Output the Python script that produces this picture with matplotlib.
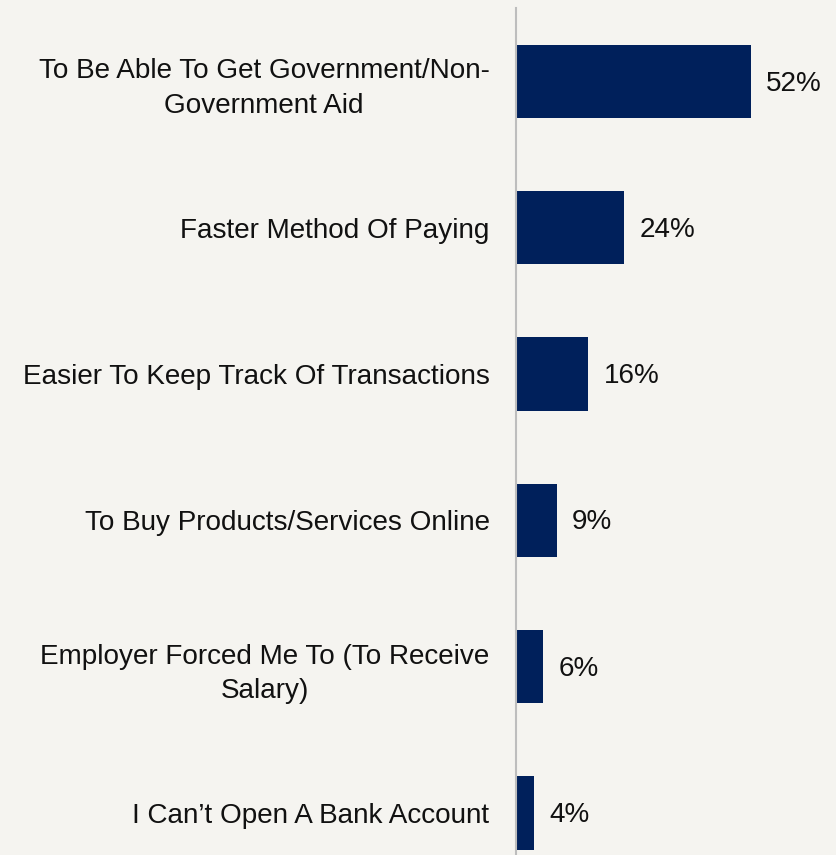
import matplotlib
matplotlib.use("Agg")
import matplotlib.pyplot as plt

# reasons for opening a mobile money account, share of respondents
reasons = [
    "To Be Able To Get Government/Non-\nGovernment Aid",
    "Faster Method Of Paying",
    "Easier To Keep Track Of Transactions",
    "To Buy Products/Services Online",
    "Employer Forced Me To (To Receive\nSalary)",
    "I Can\u2019t Open A Bank Account",
]
shares = [52, 24, 16, 9, 6, 4]

bg = "#F5F4F0"
navy = "#00205B"

plt.rcParams["font.family"] = ["Liberation Sans", "DejaVu Sans"]

fig = plt.figure(figsize=(8.36, 8.55), dpi=100, facecolor=bg)
ax = fig.add_axes([516 / 836, 0, 316.4 / 836, 847 / 855], facecolor=bg)

pos = list(range(len(reasons)))
bars = ax.barh(pos, shares, height=0.5, color=navy)

for b, v in zip(bars, shares):
    ax.annotate(f"{v}%", xy=(b.get_width(), b.get_y() + b.get_height() / 2),
                xytext=(11, -1.5), textcoords="offset points",
                va="center", ha="left", fontsize=20.1, color="#111111")

ax.set_xlim(0, 70)
ax.set_ylim(5.287, -0.502)
ax.set_yticks(pos)
ax.set_yticklabels(reasons, fontsize=20.1, color="#111111", ha="right",
                   multialignment="center", linespacing=1.42)
ax.tick_params(axis="y", length=0, pad=19)
ax.set_xticks([])

for s in ["top", "right", "bottom"]:
    ax.spines[s].set_visible(False)
ax.spines["left"].set_color("#BDBDBD")
ax.spines["left"].set_linewidth(1.5)

fig.savefig("out.png", dpi=100, facecolor=bg)
